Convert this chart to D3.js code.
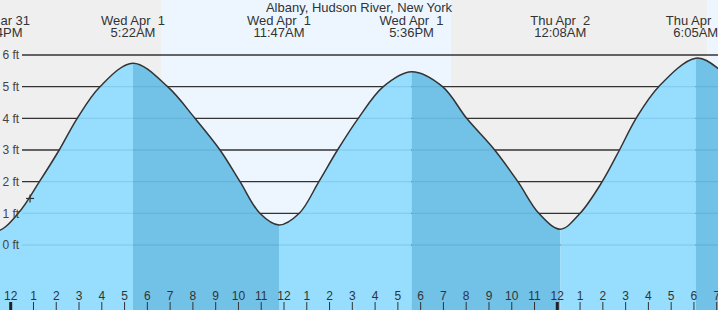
<!DOCTYPE html>
<html>
<head>
<meta charset="utf-8">
<script src="https://cdn.jsdelivr.net/npm/d3@7"></script>
<style>
  body { margin: 0; padding: 0; background: #fff; }
  svg { display: block; font-family: "Liberation Sans", Arial, sans-serif; }
  .pre { white-space: pre; }
</style>
</head>
<body>
<div id="chart"></div>
<script>
// tide curve (hours after midnight Wed Apr 1, feet)
const tideHours = [-1.55, -0.6, 0.33, 1.26, 2.13, 2.92, 3.92, 5.37, 6.89, 8.09, 9.19, 10.07, 10.94, 11.78,
                   12.67, 13.53, 14.35, 15.26, 16.36, 17.6, 18.96, 20.02, 21.25, 22.27, 23.19, 24.13,
                   25.0, 25.97, 26.73, 27.46, 28.45, 30.08, 31.05, 32];
const tideFeet  = [1.0, 0.45, 1.0, 2.0, 3.0, 4.0, 5.0, 5.74, 5.0, 4.0, 3.0, 2.0, 1.0, 0.63,
                   1.0, 2.0, 3.0, 4.0, 5.0, 5.47, 5.0, 4.0, 3.0, 2.0, 1.0, 0.5,
                   1.0, 2.0, 3.0, 4.0, 5.0, 5.9, 5.58, 4.75];

// high / low tide events
const eventHours = [-0.6, 5.37, 11.78, 17.6, 24.13, 30.08];
const eventHigh  = [false, true, false, true, false, true];
const eventDays  = ["Tue Mar 31", "Wed Apr  1", "Wed Apr  1", "Wed Apr  1", "Thu Apr  2", "Thu Apr  2"];
const eventTimes = ["11:24PM", "5:22AM", "11:47AM", "5:36PM", "12:08AM", "6:05AM"];

// daylight (sunrise, sunset) in hours
const dayStarts = [6.6, 30.57];
const dayEnds   = [19.33, 40];

const feetTicks = [0, 1, 2, 3, 4, 5, 6];
const hourTicks = d3.range(-1, 32);

const nowHour = 0.85;
const nowFeet = 1.47;

const title = "Albany, Hudson River, New York";

window.onload = () => {
    const dimensions = { width: 718, height: 310 };

    const xScale = d3.scaleLinear()
        .domain([0, 24])
        .range([10.7, 557.3]);
    const yScale = d3.scaleLinear()
        .domain([0, 6])
        .range([245, 55]);

    const svg = d3.select('#chart')
        .append('svg')
        .attr('width', dimensions.width)
        .attr('height', dimensions.height);

    // night / day background
    svg.append('rect')
        .attr('width', dimensions.width)
        .attr('height', dimensions.height)
        .attr('fill', '#efefef');
    svg.selectAll('rect.day')
        .data(dayStarts)
        .join('rect')
        .attr('class', 'day')
        .attr('x', d => xScale(d))
        .attr('width', (d, i) => xScale(dayEnds[i]) - xScale(d))
        .attr('y', 0)
        .attr('height', dimensions.height)
        .attr('fill', '#edf6ff');

    // grid lines
    svg.append('g')
        .selectAll('line')
        .data(feetTicks)
        .join('line')
        .attr('x1', 22)
        .attr('x2', dimensions.width)
        .attr('y1', d => yScale(d))
        .attr('y2', d => yScale(d))
        .attr('stroke', '#333')
        .attr('stroke-width', 1.3);

    const tide = tideHours.map((h, i) => ({ h: h, ft: tideFeet[i] }));
    const smooth = d3.curveCatmullRom.alpha(0.5);

    const area = d3.area()
        .x(d => xScale(d.h))
        .y0(dimensions.height)
        .y1(d => yScale(d.ft))
        .curve(smooth);
    const line = d3.line()
        .x(d => xScale(d.h))
        .y(d => yScale(d.ft))
        .curve(smooth);

    svg.append('clipPath')
        .attr('id', 'waterClip')
        .append('path')
        .attr('d', area(tide));

    const water = svg.append('g').attr('clip-path', 'url(#waterClip)');

    // falling tide (after a high) is darker, rising is lighter
    const segStarts = [-2].concat(eventHours);
    water.selectAll('rect')
        .data(segStarts)
        .join('rect')
        .attr('x', d => xScale(d))
        .attr('width', (d, i) => xScale(i < eventHours.length ? eventHours[i] : 40) - xScale(d))
        .attr('y', 0)
        .attr('height', dimensions.height)
        .attr('fill', (d, i) => (i === 0 || eventHigh[i - 1]) ? '#72c1e6' : '#97ddfd');

    water.append('g')
        .selectAll('line')
        .data(feetTicks)
        .join('line')
        .attr('x1', 22)
        .attr('x2', dimensions.width)
        .attr('y1', d => yScale(d))
        .attr('y2', d => yScale(d))
        .attr('stroke', 'rgba(20,90,140,0.13)')
        .attr('stroke-width', 1.3);

    svg.append('path')
        .attr('d', line(tide))
        .attr('fill', 'none')
        .attr('stroke', '#333')
        .attr('stroke-width', 1.5);

    // current time marker
    const nowG = svg.append('g')
        .attr('transform', `translate(${xScale(nowHour)}, ${yScale(nowFeet)})`)
        .attr('stroke', '#333')
        .attr('stroke-width', 1.2);
    nowG.append('line').attr('x1', -4).attr('x2', 4).attr('y1', 0).attr('y2', 0);
    nowG.append('line').attr('x1', 0).attr('x2', 0).attr('y1', -4).attr('y2', 4);

    // feet labels
    svg.append('g')
        .selectAll('text')
        .data(feetTicks)
        .join('text')
        .attr('x', 2.5)
        .attr('y', d => yScale(d))
        .attr('dy', '0.35em')
        .attr('font-size', 12)
        .attr('fill', '#444')
        .text(d => `${d} ft`);

    // hour ticks
    const hoursG = svg.append('g');
    hoursG.selectAll('line')
        .data(hourTicks)
        .join('line')
        .attr('x1', d => xScale(d))
        .attr('x2', d => xScale(d))
        .attr('y1', 302)
        .attr('y2', dimensions.height)
        .attr('stroke', d => d % 24 === 0 ? '#222' : '#333')
        .attr('stroke-width', d => d % 24 === 0 ? 3 : 1);
    hoursG.selectAll('text')
        .data(hourTicks)
        .join('text')
        .attr('x', d => xScale(d))
        .attr('y', 300)
        .attr('text-anchor', 'middle')
        .attr('font-size', 12)
        .attr('fill', '#333')
        .text(d => {
            const h = ((d % 12) + 12) % 12;
            return h === 0 ? 12 : h;
        });

    // tide event labels
    const evG = svg.append('g')
        .attr('font-size', 13)
        .attr('fill', '#333')
        .attr('text-anchor', 'middle');
    evG.selectAll('text.day')
        .data(eventHours)
        .join('text')
        .attr('class', 'day pre')
        .attr('x', d => xScale(d))
        .attr('y', 24.5)
        .text((d, i) => eventDays[i]);
    evG.selectAll('text.time')
        .data(eventHours)
        .join('text')
        .attr('class', 'time')
        .attr('x', d => xScale(d))
        .attr('y', 37)
        .text((d, i) => eventTimes[i]);

    svg.append('text')
        .attr('x', dimensions.width / 2)
        .attr('y', 12)
        .attr('text-anchor', 'middle')
        .attr('font-size', 13)
        .attr('fill', '#333')
        .text(title);
}
</script>
</body>
</html>
